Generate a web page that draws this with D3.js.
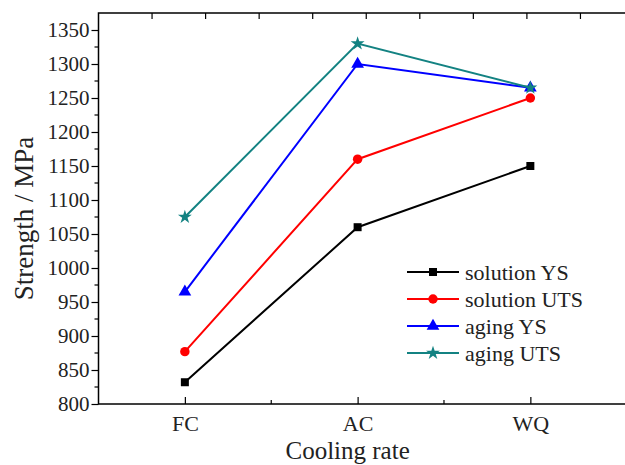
<!DOCTYPE html>
<html lang="en">
<head>
  <meta charset="UTF-8">
  <title>Strength vs cooling rate</title>
  <script src="https://d3js.org/d3.v7.min.js"></script>
  <style>
    body { margin: 0; background: #fff; }
    svg { display: block; }
    svg text { font-family: "Liberation Serif", "Tinos", "DejaVu Serif", serif; }
  </style>
</head>
<body>
  <div id="chart"></div>
  <script>
    // data
    const categories = ["FC", "AC", "WQ"];
    const solutionYS = [832, 1060, 1150];
    const solutionUTS = [877, 1160, 1250];
    const agingYS = [965, 1300, 1265];
    const agingUTS = [1075, 1330, 1265];
    const yTicks = [800, 850, 900, 950, 1000, 1050, 1100, 1150, 1200, 1250, 1300, 1350];

    const series = [
      { name: "solution YS", values: solutionYS, color: "#000000", symbol: d3.symbolSquare, size: 64 },
      { name: "solution UTS", values: solutionUTS, color: "#ff0000", symbol: d3.symbolCircle, size: 70 },
      { name: "aging YS", values: agingYS, color: "#0000ff", symbol: d3.symbolTriangle, size: 70 },
      { name: "aging UTS", values: agingUTS, color: "#138282", symbol: d3.symbolStar, size: 60 }
    ];

    const width = 625, height = 465;
    const plotLeft = 98.5, plotTop = 13, plotBottom = 404, plotRight = 634;

    const svg = d3.select("#chart").append("svg")
      .attr("width", width)
      .attr("height", height);

    const x = d3.scaleLinear().domain([0.5, 3.6]).range([plotLeft, plotRight]);
    const y = d3.scaleLinear().domain([800, 1375]).range([plotBottom, plotTop]);

    // frame
    svg.append("rect")
      .attr("x", plotLeft).attr("y", plotTop)
      .attr("width", plotRight - plotLeft).attr("height", plotBottom - plotTop)
      .attr("fill", "none").attr("stroke", "#000").attr("stroke-width", 1.5);

    // y axis: major + minor ticks, outward
    const minorY = d3.range(825, 1375, 50);
    svg.append("g").selectAll("line").data(minorY).join("line")
      .attr("x1", plotLeft - 4).attr("x2", plotLeft)
      .attr("y1", d => y(d)).attr("y2", d => y(d))
      .attr("stroke", "#000").attr("stroke-width", 1.2);

    const yAxis = svg.append("g")
      .attr("transform", `translate(${plotLeft},0)`)
      .call(d3.axisLeft(y).tickValues(yTicks).tickSize(7).tickPadding(2).tickFormat(d3.format("d")));
    yAxis.select(".domain").remove();
    yAxis.selectAll("line").attr("stroke-width", 1.2);
    yAxis.selectAll("text")
      .attr("font-size", 21)
      .attr("fill", "#222");

    // x axis: ticks point inward
    const xAxis = svg.append("g")
      .attr("transform", `translate(0,${plotBottom})`)
      .call(d3.axisBottom(x).tickValues([1, 2, 3]).tickSize(-7).tickPadding(11)
        .tickFormat(d => categories[d - 1]));
    xAxis.select(".domain").remove();
    xAxis.selectAll("line").attr("stroke-width", 1.2);
    xAxis.selectAll("text")
      .attr("font-size", 22)
      .attr("fill", "#222");

    svg.append("g").selectAll("line").data([1.5, 2.5]).join("line")
      .attr("x1", d => x(d)).attr("x2", d => x(d))
      .attr("y1", plotBottom).attr("y2", plotBottom - 4)
      .attr("stroke", "#000").attr("stroke-width", 1.2);

    // top frame ticks
    const xTop = d3.scaleLinear().domain([0, 10]).range([plotLeft, plotRight]);
    svg.append("g").selectAll("line").data(d3.range(1, 10)).join("line")
      .attr("x1", d => xTop(d)).attr("x2", d => xTop(d))
      .attr("y1", plotTop).attr("y2", plotTop + 6)
      .attr("stroke", "#000").attr("stroke-width", 1.2);

    // axis titles
    svg.append("text")
      .attr("transform", `translate(33,${(plotTop + plotBottom) / 2 + 10}) rotate(-90)`)
      .attr("text-anchor", "middle")
      .attr("font-size", 27)
      .attr("fill", "#222")
      .text("Strength / MPa");

    svg.append("text")
      .attr("x", x(2) - 10).attr("y", 459)
      .attr("text-anchor", "middle")
      .attr("font-size", 25)
      .attr("fill", "#222")
      .text("Cooling rate");

    // lines + markers
    const line = d3.line().x((d, i) => x(i + 1)).y(d => y(d));

    series.forEach(s => {
      svg.append("path")
        .datum(s.values)
        .attr("d", line)
        .attr("fill", "none")
        .attr("stroke", s.color)
        .attr("stroke-width", 2);

      svg.append("g").selectAll("path").data(s.values).join("path")
        .attr("transform", (d, i) => `translate(${x(i + 1)},${y(d)})`)
        .attr("d", d3.symbol().type(s.symbol).size(s.size))
        .attr("fill", s.color);
    });

    // legend
    const legend = svg.append("g").attr("transform", "translate(407,272)");
    const rows = legend.selectAll("g").data(series).join("g")
      .attr("transform", (d, i) => `translate(0,${i * 27})`);
    rows.append("line")
      .attr("x1", 0).attr("x2", 52)
      .attr("stroke", d => d.color).attr("stroke-width", 2);
    rows.append("path")
      .attr("transform", "translate(26,0)")
      .attr("d", d => d3.symbol().type(d.symbol).size(d.size)())
      .attr("fill", d => d.color);
    rows.append("text")
      .attr("x", 58).attr("dy", "0.35em")
      .attr("font-size", 22)
      .attr("fill", "#222")
      .text(d => d.name);
  </script>
</body>
</html>
